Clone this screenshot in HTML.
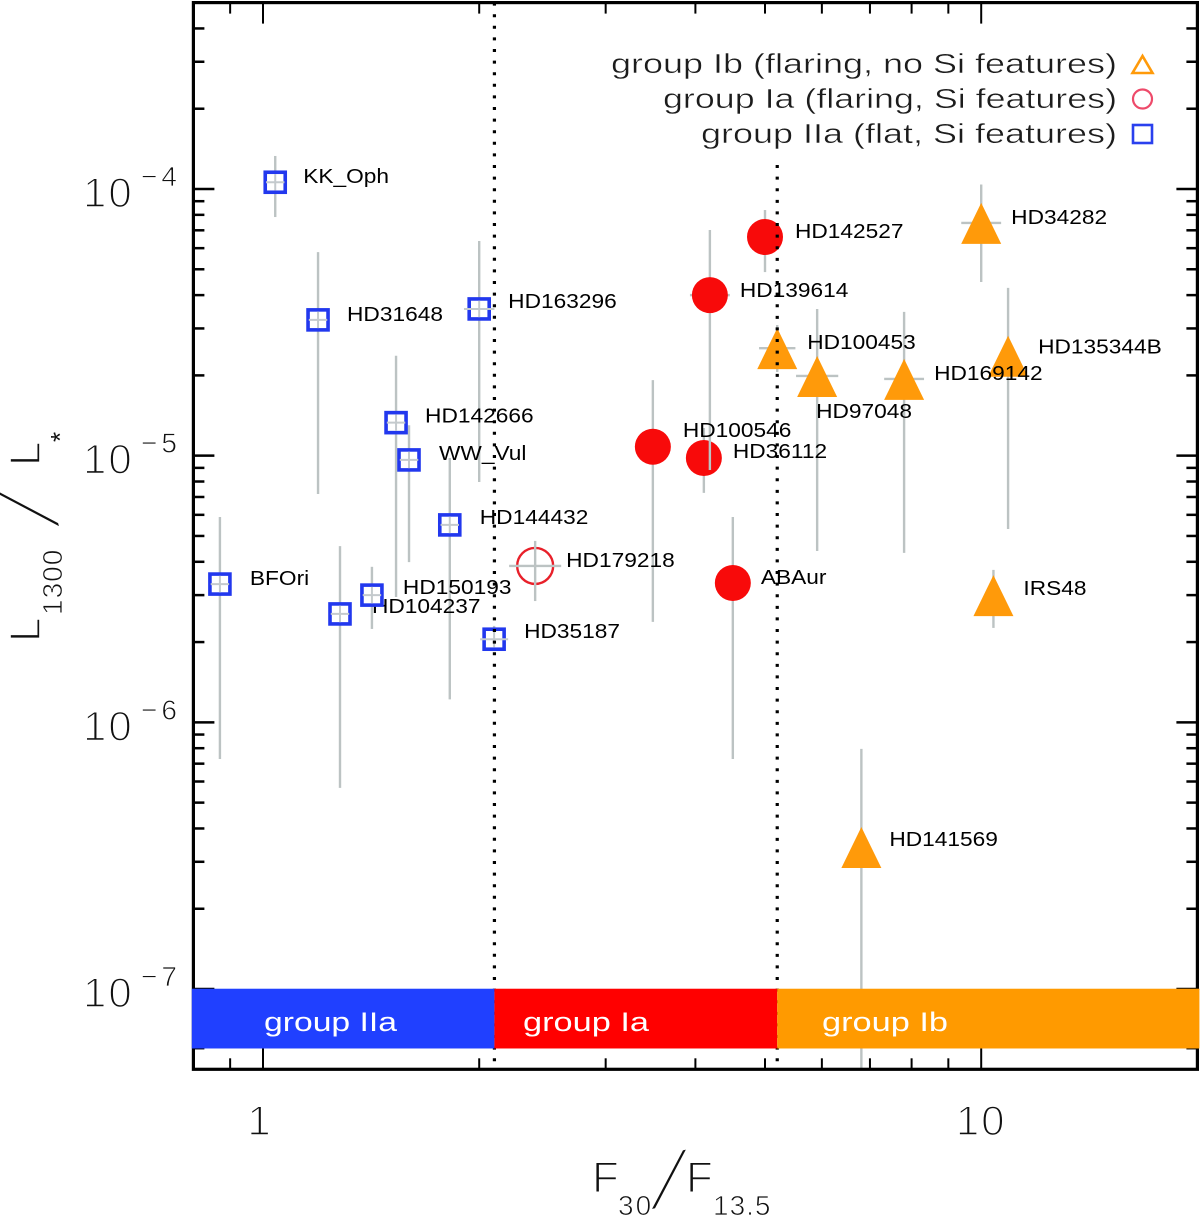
<!DOCTYPE html>
<html lang="en">
<head>
<meta charset="utf-8">
<title>L1300 / L* versus F30 / F13.5</title>
<style>
html,body{margin:0;padding:0;background:#fff;}
svg{display:block;font-family:"Liberation Sans",sans-serif;}
.thin-axis{fill:#111;stroke:#fff;paint-order:normal;}
</style>
</head>
<body>
<svg id="chart" xmlns="http://www.w3.org/2000/svg" width="1200" height="1216" viewBox="0 0 1200 1216">
  <rect x="0" y="0" width="1200" height="1216" fill="#fff"/>
  <g id="layer-filled"></g>
  <g id="layer-labels"></g>
  <g id="layer-open"></g>
  <g id="layer-dividers"></g>
  <g id="layer-ticks"></g>
  <rect x="193.4" y="2.6" width="1004" height="1066.7" fill="none" stroke="#000" stroke-width="3.2"/>
  <g id="layer-band"></g>
  <g id="layer-ticklabels"></g>

  <g font-size="28" fill="#1c1c1c" stroke="#fff" stroke-width="0.45">
    <text x="611" y="73" textLength="506" lengthAdjust="spacingAndGlyphs">group Ib (flaring, no Si features)</text>
    <text x="663" y="108" textLength="454" lengthAdjust="spacingAndGlyphs">group Ia (flaring, Si features)</text>
    <text x="701" y="143" textLength="416" lengthAdjust="spacingAndGlyphs">group IIa (flat, Si features)</text>
  </g>
  <polygon points="1142.5,56 1132.5,73 1152.5,73" fill="none" stroke="#ff9a0a" stroke-width="2.6"/>
  <circle cx="1142.5" cy="99" r="9.5" fill="none" stroke="#ee4a6a" stroke-width="2.2"/>
  <rect x="1133" y="125" width="19" height="18" fill="none" stroke="#2a40ee" stroke-width="2.6"/>

  <g fill="#111" stroke="#fff">
    <text transform="translate(40,642) rotate(-90)" font-size="44" stroke-width="1.6">L</text>
    <text transform="translate(62,615) rotate(-90)" font-size="28" letter-spacing="1" stroke-width="0.8">1300</text>
    <text transform="translate(27,508) rotate(-61.6) scale(1,3.1) rotate(-17)" font-size="30" text-anchor="middle" y="10.8" stroke="none">/</text>
    <text transform="translate(40,466) rotate(-90)" font-size="44" stroke-width="1.6">L</text>
    <text transform="translate(69,442) rotate(-90)" font-size="26" stroke="none">*</text>
  </g>
  <g fill="#111" stroke="#fff">
    <text x="592" y="1192" font-size="44" stroke-width="1.6">F</text>
    <text x="618" y="1215" font-size="28" letter-spacing="2" stroke-width="0.8">30</text>
    <text transform="translate(669,1179) rotate(28.4) scale(1,2.9) rotate(-17)" font-size="30" text-anchor="middle" y="10.8" stroke="none">/</text>
    <text x="686" y="1192" font-size="44" stroke-width="1.6">F</text>
    <text x="713" y="1215" font-size="28" letter-spacing="1" stroke-width="0.8">13.5</text>
  </g>
</svg>
<script>
// Group IIa (flat, Si features)
const iiaNames = ['KK_Oph','HD31648','HD163296','HD142666','WW_Vul','HD144432','BFOri','HD104237','HD150193','HD35187'];
const iiaX     = [1.04,1.193,2.00,1.532,1.597,1.82,0.871,1.28,1.418,2.098];
const iiaY     = [1.06e-4,3.23e-5,3.55e-5,1.33e-5,9.64e-6,5.50e-6,3.30e-6,2.55e-6,3.00e-6,2.05e-6];
const iiaYHigh = [1.33e-4,5.80e-5,6.38e-5,2.37e-5,1.30e-5,9.80e-6,5.89e-6,4.58e-6,3.83e-6,2.30e-6];
const iiaYLow  = [7.85e-5,7.18e-6,7.97e-6,2.95e-6,3.99e-6,1.22e-6,7.29e-7,5.68e-7,2.24e-6,1.85e-6];
const iiaXErr  = [0.03,0.03,0.05,0.03,0.03,0.03,0.03,0.03,0.03,0.046];

// Group Ia (flaring, Si features), filled
const iaNames = ['HD100546','HD36112','ABAur','HD139614','HD142527'];
const iaX     = [3.49,4.11,4.51,4.19,5.00];
const iaY     = [1.08e-5,9.80e-6,3.33e-6,4.00e-5,6.61e-5];
const iaYHigh = [1.92e-5,1.27e-5,5.89e-6,7.02e-5,8.34e-5];
const iaYLow  = [2.38e-6,7.25e-6,7.29e-7,8.84e-6,4.88e-5];
const iaXErr  = [0.02,0.02,0.02,0.066,0.02];

// Group Ia, open marker
const openIaNames = ['HD179218'];
const openIaX     = [2.393];
const openIaY     = [3.86e-6];
const openIaYHigh = [4.79e-6];
const openIaYLow  = [2.85e-6];
const openIaXErr  = [0.087];

// Group Ib (flaring, no Si features)
const ibNames = ['HD34282','HD100453','HD97048','HD169142','HD135344B','IRS48','HD141569'];
const ibX     = [10.0,5.20,5.91,7.81,10.9,10.4,6.81];
const ibY     = [7.46e-5,2.53e-5,1.99e-5,1.94e-5,2.37e-5,3.00e-6,3.41e-7];
const ibYHigh = [1.04e-4,3.09e-5,3.55e-5,3.46e-5,4.26e-5,3.73e-6,7.95e-7];
const ibYLow  = [4.48e-5,2.06e-5,4.39e-6,4.32e-6,5.31e-6,2.26e-6,5.0e-8];
const ibXErr  = [0.066,0.06,0.07,0.066,0.02,0.02,0.02];

// Axis ticks
const xMajorTicks = [1,10];
const xMinorTicks = [0.9,2,3,4,5,6,7,8,9];
const xTickLabels = ['1','10'];
const yMajorTicks = [1e-4,1e-5,1e-6,1e-7];
const yMinorTicks = [4e-4,3e-4,2e-4,9e-5,8e-5,7e-5,6e-5,5e-5,4e-5,3e-5,2e-5,9e-6,8e-6,7e-6,6e-6,5e-6,4e-6,3e-6,2e-6,9e-7,8e-7,7e-7,6e-7,5e-7,4e-7,3e-7,2e-7,9e-8,8e-8,7e-8,6e-8];
const yTickExponents = ['\u22124','\u22125','\u22126','\u22127'];

// Group boundaries and band
const dividerValues = [2.1,5.2];
const dividerTops = [5e-4,1.23e-4];
const bandNames = ['group IIa','group Ia','group Ib'];
const bandStarts = [0.8,2.1,5.2];
const bandEnds = [2.1,5.2,20];
const bandFloor = 6e-8;
const bandCeil = 1e-7;
const bandColors = ['#2040ff','#ff0000','#ff9a00'];

const xDomain = [0.8,20], xRange = [193.4,1197.4];
const yDomain = [5e-8,5e-4], yRange = [1069.3,2.6];
function xScale(v){
  return xRange[0] + (Math.log10(v)-Math.log10(xDomain[0]))/(Math.log10(xDomain[1])-Math.log10(xDomain[0]))*(xRange[1]-xRange[0]);
}
function yScale(v){
  return yRange[0] + (Math.log10(v)-Math.log10(yDomain[0]))/(Math.log10(yDomain[1])-Math.log10(yDomain[0]))*(yRange[1]-yRange[0]);
}

const NS = 'http://www.w3.org/2000/svg';
function make(parent, tag, attrs, text){
  const el = document.createElementNS(NS, tag);
  for (const k in attrs) el.setAttribute(k, attrs[k]);
  if (text !== undefined) el.textContent = text;
  parent.appendChild(el);
  return el;
}
const layerFilled = document.getElementById('layer-filled');
const layerLabels = document.getElementById('layer-labels');
const layerOpen = document.getElementById('layer-open');
const layerDividers = document.getElementById('layer-dividers');
const layerTicks = document.getElementById('layer-ticks');
const layerBand = document.getElementById('layer-band');
const layerTickLabels = document.getElementById('layer-ticklabels');

// Label placement relative to each mark [dx, dy]
const labelOffsets = {
  KK_Oph:[28,1],HD31648:[29,1],HD163296:[29,-1],HD142666:[29,0],WW_Vul:[30,0],HD144432:[30,-1],
  BFOri:[30,1],HD150193:[31,-1],HD104237:[32,-1],HD35187:[30,-1],HD179218:[31,1],HD100546:[30,-10],
  HD36112:[29,0],ABAur:[28,1],HD139614:[30,2],HD142527:[30,1],HD100453:[30,1],HD97048:[-1,42],
  HD169142:[30,1],HD135344B:[30,-2],HD34282:[30,1],IRS48:[30,0],HD141569:[28,-1]
};

function drawErrors(parent, name, x, y, hi, lo, xe){
  const v = make(parent, 'line', {x1:xScale(x),x2:xScale(x),y1:yScale(hi),y2:yScale(lo),stroke:'#bcc3c3','stroke-width':2.4});
  
  
  const h = make(parent, 'line', {x1:xScale(x/(1+xe)),x2:xScale(x*(1+xe)),y1:yScale(y),y2:yScale(y),stroke:'#bcc3c3','stroke-width':2.4});
  
  
}
function drawLabel(name, x, y){
  const off = labelOffsets[name] || [30,0];
  const t = make(layerLabels, 'text', {x:xScale(x)+off[0],y:yScale(y)+off[1],'font-size':20,fill:'#000'}, name);
  t.setAttribute('textLength', t.getComputedTextLength()*1.135);
  t.setAttribute('lengthAdjust', 'spacingAndGlyphs');
  
  
}

// Group IIa error bars sit below the labels
iiaNames.forEach(function(name,i){
  drawErrors(layerFilled, name, iiaX[i], iiaY[i], iiaYHigh[i], iiaYLow[i], 0.0001);
});

// Filled circles: group Ia, each bar and circle in sequence
iaNames.forEach(function(name,i){
  drawErrors(layerFilled, name, iaX[i], iaY[i], iaYHigh[i], iaYLow[i], iaXErr[i]);
  const c = make(layerFilled, 'circle', {cx:xScale(iaX[i]),cy:yScale(iaY[i]),r:18,fill:'#f80a0a'});
  
  
  drawLabel(name, iaX[i], iaY[i]);
});

// Filled triangles: group Ib
ibNames.forEach(function(name,i){
  drawErrors(layerFilled, name, ibX[i], ibY[i], ibYHigh[i], ibYLow[i], ibXErr[i]);
});
ibNames.forEach(function(name,i){
  const px = xScale(ibX[i]), py = yScale(ibY[i]);
  const p = make(layerFilled, 'polygon', {points:px+','+(py-20)+' '+(px-20)+','+(py+21)+' '+(px+20)+','+(py+21),fill:'#ff9a0a'});
  
  
  drawLabel(name, ibX[i], ibY[i]);
});

// Open markers: group IIa squares
iiaNames.forEach(function(name,i){
  const px = xScale(iiaX[i]), py = yScale(iiaY[i]);
  drawLabel(name, iiaX[i], iiaY[i]);
  const s = make(layerOpen, 'rect', {x:px-10,y:py-10,width:20,height:20,fill:'#fff',stroke:'#2238ee','stroke-width':3.6});
  
  
  const inner = make(layerOpen, 'g', {});
  
  
  const yHiClamp = Math.max(yScale(iiaYHigh[i]), py-8.2);
  const yLoClamp = Math.min(yScale(iiaYLow[i]), py+8.2);
  const vIn = make(inner, 'line', {x1:px,x2:px,y1:yHiClamp,y2:yLoClamp,stroke:'#c4cacd','stroke-width':2});
  
  
  const hIn = make(inner, 'line', {x1:xScale(iiaX[i]/(1+iiaXErr[i])),x2:xScale(iiaX[i]*(1+iiaXErr[i])),y1:py,y2:py,stroke:'#c4cacd','stroke-width':2});
  
  
});

// Open markers: group Ia circle
openIaNames.forEach(function(name,i){
  const o = make(layerOpen, 'circle', {cx:xScale(openIaX[i]),cy:yScale(openIaY[i]),r:18,fill:'#fff',stroke:'#e8202a','stroke-width':2.4});
  
  
  drawErrors(layerOpen, name, openIaX[i], openIaY[i], openIaYHigh[i], openIaYLow[i], openIaXErr[i]);
  drawLabel(name, openIaX[i], openIaY[i]);
});

// Group boundaries
dividerValues.forEach(function(v,i){
  const d = make(layerDividers, 'line', {x1:xScale(v),x2:xScale(v),y1:yScale(dividerTops[i]),y2:yRange[0],stroke:'#000','stroke-width':3.2,'stroke-dasharray':'3 8.6'});
  
  
});

// Ticks
function xTick(v, len){
  const px = xScale(v);
  const b = make(layerTicks, 'line', {x1:px,x2:px,y1:yRange[0],y2:yRange[0]-len,stroke:'#000','stroke-width':2});
  
  
  const t = make(layerTicks, 'line', {x1:px,x2:px,y1:yRange[1],y2:yRange[1]+len,stroke:'#000','stroke-width':2});
  
  
}
function yTick(v, len){
  const py = yScale(v);
  const l = make(layerTicks, 'line', {x1:xRange[0],x2:xRange[0]+len,y1:py,y2:py,stroke:'#000','stroke-width':2.5});
  
  
  const r = make(layerTicks, 'line', {x1:xRange[1],x2:xRange[1]-len,y1:py,y2:py,stroke:'#000','stroke-width':2.5});
  
  
}
xMajorTicks.forEach(function(v){ xTick(v,21); });
xMinorTicks.forEach(function(v){ xTick(v,11); });
yMajorTicks.forEach(function(v){ yTick(v,21); });
yMinorTicks.forEach(function(v){ yTick(v,11); });

// Tick labels
xMajorTicks.forEach(function(v,i){
  const t = make(layerTickLabels, 'text', {x:xScale(v)-(i===0?3:0),y:1135,'font-size':42,'letter-spacing':2,'text-anchor':'middle',class:'thin-axis','stroke-width':1.6}, xTickLabels[i]);
  
  
});
yMajorTicks.forEach(function(v,i){
  const py = yScale(v);
  const t = make(layerTickLabels, 'text', {x:83,y:py+18,'font-size':42,'letter-spacing':2,class:'thin-axis','stroke-width':1.6}, '10');
  
  
  const e = make(layerTickLabels, 'text', {x:141,y:py-3,'font-size':28,'letter-spacing':4,class:'thin-axis','stroke-width':0.8}, yTickExponents[i]);
  
  
});

// Band
const bandTextStart = [264,523,822];
const bandTextWidth = [133,126,126];
bandNames.forEach(function(name,i){
  const x0 = xScale(bandStarts[i]) - (i===0?1.6:0);
  const x1 = xScale(bandEnds[i]) + (i===2?2:0);
  const r = make(layerBand, 'rect', {x:x0,y:yScale(bandCeil)-0.3,width:x1-x0,height:yScale(bandFloor)-yScale(bandCeil)+0.6,fill:bandColors[i]});
  
  
  const t = make(layerBand, 'text', {x:bandTextStart[i],y:1031,'font-size':27,fill:'#fff',textLength:bandTextWidth[i],lengthAdjust:'spacingAndGlyphs'}, name);
  
  
});
</script>
</body>
</html>
